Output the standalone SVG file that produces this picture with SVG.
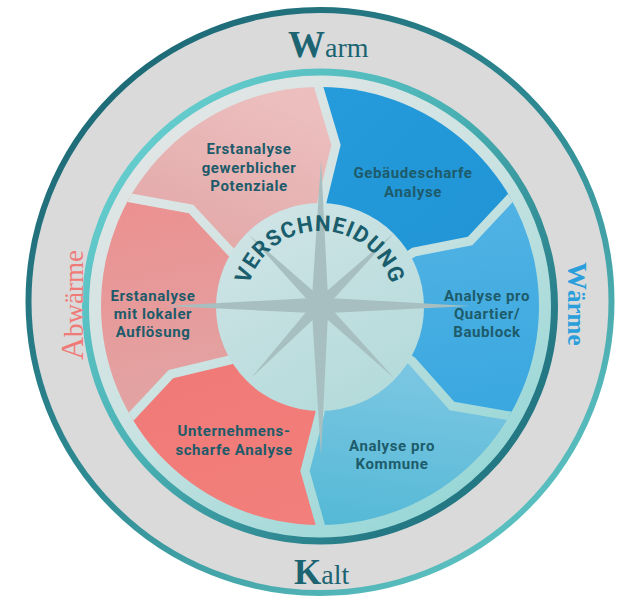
<svg xmlns="http://www.w3.org/2000/svg" width="625" height="598" viewBox="0 0 625 598">
  <defs>
    <linearGradient id="outerRing" x1="0.1" y1="0" x2="0.9" y2="1">
      <stop offset="0" stop-color="#1a6371"/>
      <stop offset="0.5" stop-color="#2f8b93"/>
      <stop offset="1" stop-color="#66cdcc"/>
    </linearGradient>
    <linearGradient id="innerRing" x1="0.15" y1="0.1" x2="0.85" y2="0.75">
      <stop offset="0" stop-color="#65cdce"/>
      <stop offset="0.5" stop-color="#48afb2"/>
      <stop offset="1" stop-color="#247884"/>
    </linearGradient>
    <linearGradient id="field" gradientUnits="userSpaceOnUse" x1="150" y1="100" x2="470" y2="540">
      <stop offset="0" stop-color="#e4e5e5"/>
      <stop offset="0.45" stop-color="#cbe3e2"/>
      <stop offset="1" stop-color="#90d5d5"/>
    </linearGradient>
    <linearGradient id="hub" gradientUnits="userSpaceOnUse" x1="260" y1="200" x2="380" y2="410">
      <stop offset="0" stop-color="#d0e4e6"/>
      <stop offset="1" stop-color="#b3dada"/>
    </linearGradient>
    <linearGradient id="gTL" gradientUnits="userSpaceOnUse" x1="250" y1="90" x2="180" y2="260">
      <stop offset="0" stop-color="#ecbebe"/>
      <stop offset="1" stop-color="#e2a6a6"/>
    </linearGradient>
    <linearGradient id="gL" gradientUnits="userSpaceOnUse" x1="110" y1="200" x2="160" y2="410">
      <stop offset="0" stop-color="#ec9090"/>
      <stop offset="1" stop-color="#e2a4a4"/>
    </linearGradient>
    <linearGradient id="gR" gradientUnits="userSpaceOnUse" x1="200" y1="370" x2="260" y2="530">
      <stop offset="0" stop-color="#f07a77"/>
      <stop offset="1" stop-color="#f27f7b"/>
    </linearGradient>
    <linearGradient id="gK" gradientUnits="userSpaceOnUse" x1="400" y1="370" x2="380" y2="530">
      <stop offset="0" stop-color="#7ac6e2"/>
      <stop offset="1" stop-color="#55b9d6"/>
    </linearGradient>
    <linearGradient id="gQ" gradientUnits="userSpaceOnUse" x1="450" y1="200" x2="480" y2="420">
      <stop offset="0" stop-color="#52b3e4"/>
      <stop offset="1" stop-color="#39a7df"/>
    </linearGradient>
    <linearGradient id="gG" gradientUnits="userSpaceOnUse" x1="330" y1="90" x2="470" y2="250">
      <stop offset="0" stop-color="#259bdb"/>
      <stop offset="1" stop-color="#2195d6"/>
    </linearGradient>
    <clipPath id="segClip">
      <circle cx="320" cy="306" r="219"/>
    </clipPath>
    <path id="hubArc" d="M 246,305 A 74,74 0 0 1 394,305"/>
  </defs>
  <style>
    .lbl { font-family: Roboto, "DejaVu Sans", sans-serif; font-weight: 700; font-size: 15px; letter-spacing: 0.6px; fill: #1d5b6a; text-anchor: middle; }
    .gap { fill: none; stroke: url(#field); stroke-width: 9; stroke-linejoin: miter; }
    .ring { font-family: "Liberation Serif", "Times New Roman", serif; }
    .star { fill: #a7bfc0; }
  </style>

  <!-- outer band -->
  <circle cx="320" cy="301.5" r="291.5" fill="#dadada" stroke="url(#outerRing)" stroke-width="6"/>
  <!-- inner field and ring -->
  <circle cx="320" cy="306.5" r="234.5" fill="url(#field)" stroke="url(#innerRing)" stroke-width="7"/>

  <!-- analysis segments -->
  <g clip-path="url(#segClip)">
    <g id="seg-gebaeude"><path d="M318,6 L319,88 L336,145 L322,202 L320,306 L414,252 L470,241 L515,193 L580,156 Z" fill="url(#gG)"/></g>
    <g id="seg-quartier"><path d="M580,156 L515,193 L470,241 L414,252 L320,306 L412,361 L452,406 L516,417 L581,454 Z" fill="url(#gQ)"/></g>
    <g id="seg-kommune"><path d="M581,454 L516,417 L452,406 L412,361 L320,306 L320,413 L305,471 L322,531 L323,606 Z" fill="url(#gK)"/></g>
    <g id="seg-unternehmen"><path d="M323,606 L322,531 L305,471 L320,413 L320,306 L230,360 L171,374 L128,420 L63,461 Z" fill="url(#gR)"/></g>
    <g id="seg-lokal"><path d="M63,461 L128,420 L171,374 L230,360 L320,306 L231,252 L191,209 L125,197 L58,160 Z" fill="url(#gL)"/></g>
    <g id="seg-gewerblich"><path d="M58,160 L125,197 L191,209 L231,252 L320,306 L322,202 L336,145 L319,88 L318,6 Z" fill="url(#gTL)"/></g>
  </g>

  <!-- separators between segments -->
  <g id="connectors" clip-path="url(#segClip)">
    <path class="gap" d="M318,6 L319,88 L336,145 L322,202 L320,260"/>
    <path class="gap" d="M580,156 L515,193 L470,241 L414,252 L370,280"/>
    <path class="gap" d="M581,454 L516,417 L452,406 L412,361 L370,335"/>
    <path class="gap" d="M323,606 L322,531 L305,471 L320,413 L320,360"/>
    <path class="gap" d="M63,461 L128,420 L171,374 L230,360 L270,335"/>
    <path class="gap" d="M58,160 L125,197 L191,209 L231,252 L270,280"/>
  </g>

  <!-- hub with compass rose -->
  <g id="hub-verschneidung">
    <circle cx="320" cy="307" r="104" fill="url(#hub)"/>
    <polygon class="star" points="394,233 328,305 394,378 320,313 251,378 312,305 249,235 320,297"/>
    <polygon class="star" points="321,160 328,298 470,306 328,313 321,456 312,313 166,306 312,298"/>
    <text font-family="Roboto, 'DejaVu Sans', sans-serif" font-weight="700" font-size="22" letter-spacing="1" fill="#1a5d6c">
      <textPath href="#hubArc" startOffset="50%" text-anchor="middle">VERSCHNEIDUNG</textPath>
    </text>
  </g>

  <!-- segment labels -->
  <g id="label-gewerblich">
    <text class="lbl" x="249" y="154">Erstanalyse</text>
    <text class="lbl" x="249" y="173">gewerblicher</text>
    <text class="lbl" x="249" y="191">Potenziale</text>
  </g>
  <g id="label-gebaeude">
    <text class="lbl" x="413" y="178">Gebäudescharfe</text>
    <text class="lbl" x="413" y="197">Analyse</text>
  </g>
  <g id="label-lokal">
    <text class="lbl" x="153" y="301">Erstanalyse</text>
    <text class="lbl" x="153" y="319">mit lokaler</text>
    <text class="lbl" x="153" y="337">Auflösung</text>
  </g>
  <g id="label-quartier">
    <text class="lbl" x="487" y="301">Analyse pro</text>
    <text class="lbl" x="487" y="319">Quartier/</text>
    <text class="lbl" x="487" y="337">Baublock</text>
  </g>
  <g id="label-unternehmen">
    <text class="lbl" x="234" y="436">Unternehmens-</text>
    <text class="lbl" x="234" y="455">scharfe Analyse</text>
  </g>
  <g id="label-kommune">
    <text class="lbl" x="392" y="451">Analyse pro</text>
    <text class="lbl" x="392" y="469">Kommune</text>
  </g>

  <!-- band labels -->
  <g id="band-warm">
    <text class="ring" x="288" y="57" fill="#1c6472"><tspan font-weight="700" font-size="37">W</tspan><tspan font-size="28">arm</tspan></text>
  </g>
  <g id="band-kalt">
    <text class="ring" x="294" y="584" fill="#1c6472"><tspan font-weight="700" font-size="35">K</tspan><tspan font-size="28">alt</tspan></text>
  </g>
  <g id="band-abwaerme">
    <text class="ring" transform="translate(83,360) rotate(-90)" fill="#f07a78"><tspan font-size="32">A</tspan><tspan font-size="27">bwärme</tspan></text>
  </g>
  <g id="band-waerme">
    <text class="ring" transform="translate(568,262) rotate(90)" fill="#2b9fdc" font-weight="700"><tspan font-size="28">W</tspan><tspan font-size="25">ärme</tspan></text>
  </g>
</svg>
